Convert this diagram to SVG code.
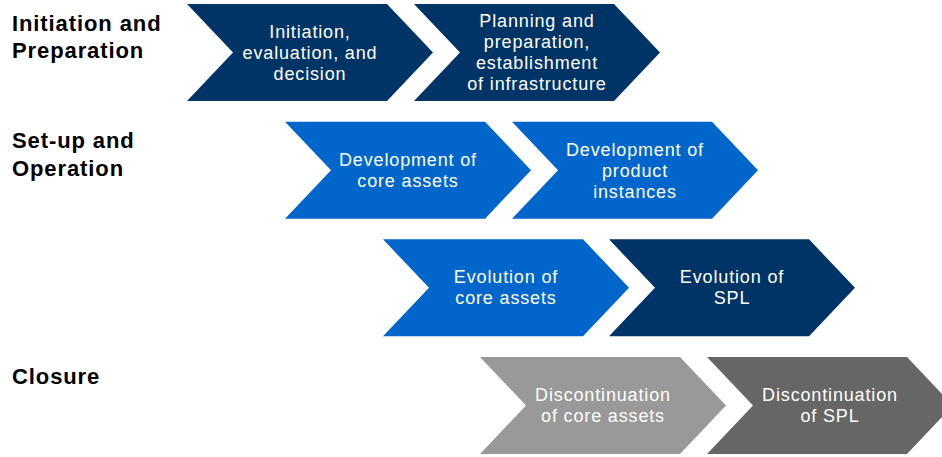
<svg xmlns="http://www.w3.org/2000/svg" width="942" height="457" viewBox="0 0 942 457">
<style>
.lbl{font-family:"Liberation Sans",Arial,sans-serif;font-size:22px;font-weight:bold;fill:#000;letter-spacing:0.9px}
.t{font-family:"Liberation Sans",Arial,sans-serif;font-size:18px;fill:#fff;text-anchor:middle;letter-spacing:0.85px}
.navy{fill:#003366}
.blue{fill:#0066CC}
.lg{fill:#999999}
.dg{fill:#666666}
</style>
<defs>
<path id="chev" d="M0,0 L200,0 L246,48.5 L200,97 L0,97 L46,48.5 Z"/>
</defs>
<rect width="942" height="457" fill="#fff"/>
<g id="labels">
<text class="lbl" x="12" y="31">Initiation and</text>
<text class="lbl" x="12" y="58">Preparation</text>
<text class="lbl" x="12" y="148">Set-up and</text>
<text class="lbl" x="12" y="176">Operation</text>
<text class="lbl" x="12" y="384">Closure</text>
</g>
<g id="n1"><use href="#chev" class="navy" x="187" y="4"/>
<text class="t"><tspan x="310" y="38">Initiation,</tspan><tspan x="310" y="59">evaluation, and</tspan><tspan x="310" y="80">decision</tspan></text></g>
<g id="n2"><use href="#chev" class="navy" x="414" y="4"/>
<text class="t"><tspan x="537" y="27">Planning and</tspan><tspan x="537" y="48">preparation,</tspan><tspan x="537" y="69">establishment</tspan><tspan x="537" y="90">of infrastructure</tspan></text></g>
<g id="n3"><use href="#chev" class="blue" x="285" y="121.7"/>
<text class="t"><tspan x="408" y="166">Development of</tspan><tspan x="408" y="187">core assets</tspan></text></g>
<g id="n4"><use href="#chev" class="blue" x="512" y="121.7"/>
<text class="t"><tspan x="635" y="156">Development of</tspan><tspan x="635" y="177">product</tspan><tspan x="635" y="198">instances</tspan></text></g>
<g id="n5"><use href="#chev" class="blue" x="383" y="239.3"/>
<text class="t"><tspan x="506" y="283">Evolution of</tspan><tspan x="506" y="304">core assets</tspan></text></g>
<g id="n6"><use href="#chev" class="navy" x="609" y="239.3"/>
<text class="t"><tspan x="732" y="283">Evolution of</tspan><tspan x="732" y="304">SPL</tspan></text></g>
<g id="n7"><use href="#chev" class="lg" x="480" y="357"/>
<text class="t"><tspan x="603" y="401">Discontinuation</tspan><tspan x="603" y="422">of core assets</tspan></text></g>
<g id="n8"><use href="#chev" class="dg" x="707" y="357"/>
<text class="t"><tspan x="830" y="401">Discontinuation</tspan><tspan x="830" y="422">of SPL</tspan></text></g>
<g id="connectors"></g>
</svg>
